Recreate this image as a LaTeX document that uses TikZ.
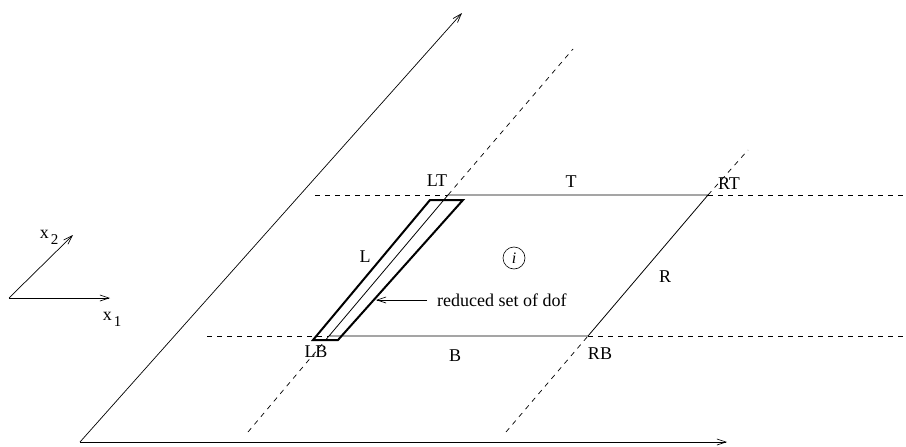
\documentclass[tikz,border=0pt]{standalone}
\usepackage{fontspec}
\setmainfont{Liberation Serif}
\usetikzlibrary{arrows.meta}

\begin{document}
\begin{tikzpicture}[
        x=1pt, y=-1pt,
        lbl/.style={font=\fontsize{18}{20}\selectfont, inner sep=0pt},
        axis/.style={-{Straight Barb[length=9pt, width=6pt]}, line width=0.7pt},
        edge/.style={line width=0.8pt},
        guide/.style={line width=0.7pt, dash pattern=on 5pt off 5pt},
        strip/.style={line width=2pt, line join=miter},
    ]
    \useasboundingbox (0,0) rectangle (906,447);
    % corners of element i
    \coordinate (LT) at (448,195);
    \coordinate (RT) at (708,195);
    \coordinate (LB) at (329,336);
    \coordinate (RB) at (588,336);
    % ends of the grid lines
    \coordinate (topW) at (315,195);
    \coordinate (topE) at (904,195);
    \coordinate (botW) at (207,336);
    \coordinate (botE) at (904,336);
    \coordinate (lgS) at (248,432);
    \coordinate (lgN) at (573,49);
    \coordinate (rgS) at (506,432);
    \coordinate (rgN) at (748,150);
    % axes
    \coordinate (O) at (80,442);
    \coordinate (Oe1) at (727,442);
    \coordinate (Oe2) at (462,13);
    \coordinate (o) at (9,298);
    \coordinate (e1) at (110,298);
    \coordinate (e2) at (73,235);
    \draw[axis] (O) -- (Oe1);
    \draw[axis] (O) -- (Oe2);
    \draw[axis] (o) -- (e1);
    \draw[axis] (o) -- (e2);
    \node[lbl] (x2) at (49,237) {x\hspace{2pt}\raisebox{-6pt}{\fontsize{15}{15}\selectfont 2}};
    \node[lbl] (x1) at (112,319) {x\hspace{2pt}\raisebox{-6pt}{\fontsize{15}{15}\selectfont 1}};
    % grid lines
    \draw[guide] (topW) -- (LT);
    \draw[guide] (RT) -- (topE);
    \draw[guide] (botW) -- (LB);
    \draw[guide] (RB) -- (botE);
    \draw[guide] (lgS) -- (LB);
    \draw[guide] (LT) -- (lgN);
    \draw[guide] (rgS) -- (RB);
    \draw[guide] (RT) -- (rgN);
    % element i
    \draw[edge] (LT) -- (RT) -- (RB) -- (LB) -- cycle;
    \coordinate (s1) at (430,200);
    \coordinate (s2) at (463,200);
    \coordinate (s3) at (338,340);
    \coordinate (s4) at (313,340);
    \draw[strip] (s1) -- (s2) -- (s3) -- (s4) -- cycle;
    \node[draw, circle, minimum size=22pt, inner sep=0pt, line width=0.6pt,
          font=\fontsize{16}{16}\selectfont\itshape] (elem) at (514,258) {i};
    % labels
    \node[lbl] (lLT) at (437,181) {LT};
    \node[lbl] (lT) at (571,182) {T};
    \node[lbl] (lRT) at (729,184) {RT};
    \node[lbl] (lL) at (365,257) {L};
    \node[lbl] (lR) at (665,277) {R};
    \node[lbl] (lLB) at (316,352) {LB};
    \node[lbl] (lB) at (455,356) {B};
    \node[lbl] (lRB) at (600,354) {RB};
    \node[lbl, anchor=west] (dof) at (437,300) {reduced set of dof};
    \coordinate (tip) at (376,300);
    \draw[axis] ([xshift=-10pt]dof.west) -- (tip);
\end{tikzpicture}
\end{document}
